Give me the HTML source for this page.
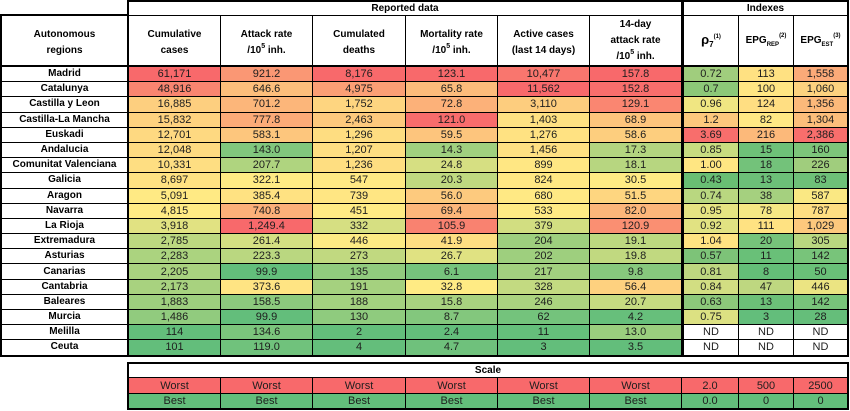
<!DOCTYPE html>
<html>
<head>
<meta charset="utf-8">
<style>
  html,body{margin:0;padding:0;background:#fff;}
  body{width:850px;height:411px;position:relative;overflow:hidden;font-family:"Liberation Sans",sans-serif;color:#1e1e1e;}
  .blk{position:absolute;background:#000;display:grid;column-gap:1px;row-gap:1px;}
  .blk > div{background:#fff;display:flex;align-items:center;justify-content:center;text-align:center;font-size:11px;line-height:14px;white-space:nowrap;overflow:hidden;}
  .blk > div > span{display:block;}
  #L{left:0;top:14px;padding:2px 0 2px 2px;grid-template-columns:125px;grid-template-rows:50px repeat(19,14.2px);}
  #R{left:127px;top:0;padding:2px;grid-template-columns:91px 91px 92px 91px 91px 91px;grid-template-rows:13px 50px repeat(19,14.2px);}
  #I{left:683px;top:0;padding:2px 2px 2px 1px;grid-template-columns:54px 54px 53px;grid-template-rows:13px 50px repeat(19,14.2px);}
  #S{left:127px;top:362px;padding:2px;grid-template-columns:91px 91px 92px 91px 91px 91px 56px 54px 53px;grid-template-rows:13px 15px 14px;}
  .blk > div.h{font-weight:bold;font-size:10px;line-height:16px;color:#000;box-shadow:inset 0 -1px 0 #000;}
  .blk > div.h2 > span{padding-top:3px;}
  .blk > div.t{font-weight:bold;font-size:10px;color:#000;grid-column:1 / -1;}
  #L > div.n{font-weight:bold;font-size:10px;color:#000;}
  sup,sub{line-height:0;font-size:6px;}
  sup.s5{font-size:7px;vertical-align:5px;}
  .rho{font-size:13px;}
  .w{background:rgb(248,105,107)!important;}
  .g{background:rgb(99,190,123)!important;}
</style>
</head>
<body>

<div id="L" class="blk">
  <div class="h h2"><span>Autonomous<br>regions</span></div>
  <div class="n">Madrid</div>
  <div class="n">Catalunya</div>
  <div class="n">Castilla y Leon</div>
  <div class="n">Castilla-La Mancha</div>
  <div class="n">Euskadi</div>
  <div class="n">Andalucia</div>
  <div class="n">Comunitat Valenciana</div>
  <div class="n">Galicia</div>
  <div class="n">Aragon</div>
  <div class="n">Navarra</div>
  <div class="n">La Rioja</div>
  <div class="n">Extremadura</div>
  <div class="n">Asturias</div>
  <div class="n">Canarias</div>
  <div class="n">Cantabria</div>
  <div class="n">Baleares</div>
  <div class="n">Murcia</div>
  <div class="n">Melilla</div>
  <div class="n">Ceuta</div>
</div>

<div id="R" class="blk">
  <div class="t">Reported data</div>
  <div class="h h2"><span>Cumulative<br>cases</span></div>
  <div class="h h2"><span>Attack rate<br>/10<sup class="s5">5</sup> inh.</span></div>
  <div class="h h2"><span>Cumulated<br>deaths</span></div>
  <div class="h h2"><span>Mortality rate<br>/10<sup class="s5">5</sup> inh.</span></div>
  <div class="h h2"><span>Active cases<br>(last 14 days)</span></div>
  <div class="h"><span>14-day<br>attack rate<br>/10<sup class="s5">5</sup> inh.</span></div>

  <div style="background:rgb(248,105,107)">61,171</div><div style="background:rgb(250,151,116)">921.2</div><div style="background:rgb(248,105,107)">8,176</div><div style="background:rgb(248,105,107)">123.1</div><div style="background:rgb(249,118,110)">10,477</div><div style="background:rgb(248,105,107)">157.8</div>
  <div style="background:rgb(249,133,112)">48,916</div><div style="background:rgb(253,190,123)">646.6</div><div style="background:rgb(251,159,117)">4,975</div><div style="background:rgb(252,187,123)">65.8</div><div style="background:rgb(248,105,107)">11,562</div><div style="background:rgb(248,110,108)">152.8</div>
  <div style="background:rgb(253,207,127)">16,885</div><div style="background:rgb(252,182,122)">701.2</div><div style="background:rgb(254,213,128)">1,752</div><div style="background:rgb(252,177,121)">72.8</div><div style="background:rgb(253,205,126)">3,110</div><div style="background:rgb(250,134,113)">129.1</div>
  <div style="background:rgb(254,210,127)">15,832</div><div style="background:rgb(252,171,120)">777.8</div><div style="background:rgb(253,201,125)">2,463</div><div style="background:rgb(248,108,108)">121.0</div><div style="background:rgb(254,225,130)">1,403</div><div style="background:rgb(253,196,124)">68.9</div>
  <div style="background:rgb(254,217,129)">12,701</div><div style="background:rgb(253,198,125)">583.1</div><div style="background:rgb(254,221,129)">1,296</div><div style="background:rgb(253,197,125)">59.5</div><div style="background:rgb(255,226,130)">1,276</div><div style="background:rgb(253,206,126)">58.6</div>
  <div style="background:rgb(254,218,129)">12,048</div><div style="background:rgb(129,199,125)">143.0</div><div style="background:rgb(254,222,130)">1,207</div><div style="background:rgb(160,208,127)">14.3</div><div style="background:rgb(254,224,130)">1,456</div><div style="background:rgb(179,213,128)">17.3</div>
  <div style="background:rgb(254,222,130)">10,331</div><div style="background:rgb(175,212,127)">207.7</div><div style="background:rgb(254,222,129)">1,236</div><div style="background:rgb(214,223,130)">24.8</div><div style="background:rgb(255,231,131)">899</div><div style="background:rgb(183,214,128)">18.1</div>
  <div style="background:rgb(255,226,130)">8,697</div><div style="background:rgb(255,235,132)">322.1</div><div style="background:rgb(255,233,132)">547</div><div style="background:rgb(191,217,128)">20.3</div><div style="background:rgb(255,232,131)">824</div><div style="background:rgb(255,235,132)">30.5</div>
  <div style="background:rgb(255,234,132)">5,091</div><div style="background:rgb(255,226,130)">385.4</div><div style="background:rgb(255,230,131)">739</div><div style="background:rgb(253,202,126)">56.0</div><div style="background:rgb(255,233,132)">680</div><div style="background:rgb(254,214,128)">51.5</div>
  <div style="background:rgb(255,235,132)">4,815</div><div style="background:rgb(252,176,121)">740.8</div><div style="background:rgb(255,235,132)">451</div><div style="background:rgb(252,182,122)">69.4</div><div style="background:rgb(255,235,132)">533</div><div style="background:rgb(252,182,122)">82.0</div>
  <div style="background:rgb(225,226,130)">3,918</div><div style="background:rgb(248,105,107)">1,249.4</div><div style="background:rgb(214,223,130)">332</div><div style="background:rgb(249,130,112)">105.9</div><div style="background:rgb(210,222,129)">379</div><div style="background:rgb(250,143,114)">120.9</div>
  <div style="background:rgb(188,216,128)">2,785</div><div style="background:rgb(212,223,130)">261.4</div><div style="background:rgb(253,235,132)">446</div><div style="background:rgb(254,222,130)">41.9</div><div style="background:rgb(158,207,126)">204</div><div style="background:rgb(189,216,128)">19.1</div>
  <div style="background:rgb(171,211,127)">2,283</div><div style="background:rgb(186,215,128)">223.3</div><div style="background:rgb(193,217,128)">273</div><div style="background:rgb(224,226,130)">26.7</div><div style="background:rgb(158,207,126)">202</div><div style="background:rgb(193,217,128)">19.8</div>
  <div style="background:rgb(169,210,127)">2,205</div><div style="background:rgb(99,190,123)">99.9</div><div style="background:rgb(145,203,126)">135</div><div style="background:rgb(118,195,124)">6.1</div><div style="background:rgb(162,208,127)">217</div><div style="background:rgb(135,200,125)">9.8</div>
  <div style="background:rgb(168,210,127)">2,173</div><div style="background:rgb(255,228,131)">373.6</div><div style="background:rgb(165,209,127)">191</div><div style="background:rgb(255,235,132)">32.8</div><div style="background:rgb(195,218,129)">328</div><div style="background:rgb(254,209,127)">56.4</div>
  <div style="background:rgb(158,207,126)">1,883</div><div style="background:rgb(140,202,125)">158.5</div><div style="background:rgb(164,209,127)">188</div><div style="background:rgb(168,210,127)">15.8</div><div style="background:rgb(171,211,127)">246</div><div style="background:rgb(198,219,129)">20.7</div>
  <div style="background:rgb(145,203,126)">1,486</div><div style="background:rgb(99,190,123)">99.9</div><div style="background:rgb(143,203,126)">130</div><div style="background:rgb(131,199,125)">8.7</div><div style="background:rgb(116,195,124)">62</div><div style="background:rgb(103,191,123)">4.2</div>
  <div style="background:rgb(99,190,123)">114</div><div style="background:rgb(123,197,124)">134.6</div><div style="background:rgb(99,190,123)">2</div><div style="background:rgb(99,190,123)">2.4</div><div style="background:rgb(101,191,123)">11</div><div style="background:rgb(154,206,126)">13.0</div>
  <div style="background:rgb(99,190,123)">101</div><div style="background:rgb(112,194,124)">119.0</div><div style="background:rgb(100,190,123)">4</div><div style="background:rgb(111,193,124)">4.7</div><div style="background:rgb(99,190,123)">3</div><div style="background:rgb(99,190,123)">3.5</div>
</div>

<div id="I" class="blk">
  <div class="t">Indexes</div>
  <div class="h"><span><span class="rho">ρ</span><sub style="font-size:8px;vertical-align:-3px">7</sub><sup style="vertical-align:6px">(1)</sup></span></div>
  <div class="h"><span>EPG<sub style="vertical-align:-3px">REP</sub><sup style="vertical-align:6px">(2)</sup></span></div>
  <div class="h"><span>EPG<sub style="vertical-align:-3px">EST</sub><sup style="vertical-align:6px">(3)</sup></span></div>

  <div style="background:rgb(160,205,125)">0.72</div><div style="background:rgb(255,225,130)">113</div><div style="background:rgb(251,170,120)">1,558</div>
  <div style="background:rgb(140,200,120)">0.7</div><div style="background:rgb(255,230,131)">100</div><div style="background:rgb(253,210,127)">1,060</div>
  <div style="background:rgb(240,230,130)">0.96</div><div style="background:rgb(255,222,130)">124</div><div style="background:rgb(252,185,122)">1,356</div>
  <div style="background:rgb(252,200,125)">1.2</div><div style="background:rgb(255,232,132)">82</div><div style="background:rgb(252,190,123)">1,304</div>
  <div style="background:rgb(248,110,108)">3.69</div><div style="background:rgb(252,185,122)">216</div><div style="background:rgb(248,110,108)">2,386</div>
  <div style="background:rgb(200,220,128)">0.85</div><div style="background:rgb(110,193,120)">15</div><div style="background:rgb(125,197,122)">160</div>
  <div style="background:rgb(255,230,130)">1.00</div><div style="background:rgb(115,194,122)">18</div><div style="background:rgb(160,205,125)">226</div>
  <div style="background:rgb(105,190,115)">0.43</div><div style="background:rgb(108,192,120)">13</div><div style="background:rgb(110,192,120)">83</div>
  <div style="background:rgb(185,215,128)">0.74</div><div style="background:rgb(165,208,127)">38</div><div style="background:rgb(250,232,131)">587</div>
  <div style="background:rgb(230,228,130)">0.95</div><div style="background:rgb(245,232,132)">78</div><div style="background:rgb(255,222,130)">787</div>
  <div style="background:rgb(225,226,130)">0.92</div><div style="background:rgb(255,226,130)">111</div><div style="background:rgb(253,200,125)">1,029</div>
  <div style="background:rgb(255,228,130)">1.04</div><div style="background:rgb(118,195,122)">20</div><div style="background:rgb(185,215,128)">305</div>
  <div style="background:rgb(125,195,120)">0.57</div><div style="background:rgb(105,192,120)">11</div><div style="background:rgb(120,196,122)">142</div>
  <div style="background:rgb(190,215,128)">0.81</div><div style="background:rgb(100,190,120)">8</div><div style="background:rgb(105,192,120)">50</div>
  <div style="background:rgb(210,222,130)">0.84</div><div style="background:rgb(190,215,128)">47</div><div style="background:rgb(235,228,130)">446</div>
  <div style="background:rgb(140,200,122)">0.63</div><div style="background:rgb(108,192,120)">13</div><div style="background:rgb(120,196,122)">142</div>
  <div style="background:rgb(220,225,130)">0.75</div><div style="background:rgb(99,190,123)">3</div><div style="background:rgb(101,190,122)">28</div>
  <div>ND</div><div>ND</div><div>ND</div>
  <div>ND</div><div>ND</div><div>ND</div>
</div>

<div id="S" class="blk">
  <div class="t">Scale</div>
  <div class="w">Worst</div><div class="w">Worst</div><div class="w">Worst</div><div class="w">Worst</div><div class="w">Worst</div><div class="w">Worst</div><div class="w">2.0</div><div class="w">500</div><div class="w">2500</div>
  <div class="g">Best</div><div class="g">Best</div><div class="g">Best</div><div class="g">Best</div><div class="g">Best</div><div class="g">Best</div><div class="g">0.0</div><div class="g">0</div><div class="g">0</div>
</div>

</body>
</html>
